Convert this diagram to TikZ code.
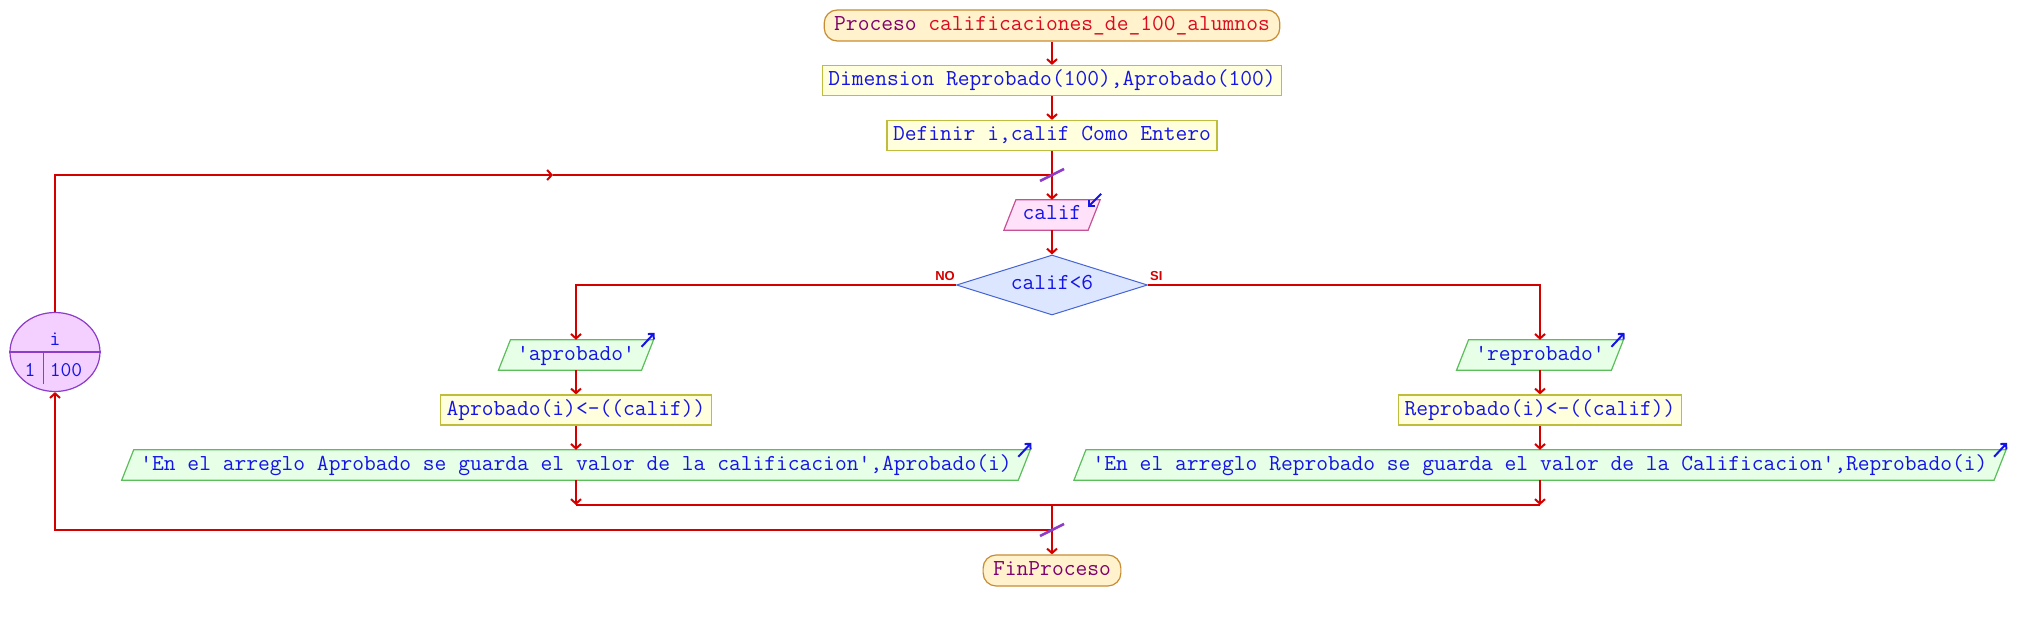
\documentclass[tikz,border=0pt]{standalone}
\usepackage{fontspec}
\newfontfamily\lblfont{Liberation Sans}
\usetikzlibrary{arrows.meta,shapes.geometric,calc,backgrounds}
\definecolor{termfill}{RGB}{255,242,204}
\definecolor{termdraw}{RGB}{200,140,50}
\definecolor{procfill}{RGB}{255,255,221}
\definecolor{procdraw}{RGB}{190,190,60}
\definecolor{iofill}{RGB}{230,255,230}
\definecolor{iodraw}{RGB}{90,190,90}
\definecolor{infill}{RGB}{255,225,250}
\definecolor{indraw}{RGB}{200,80,150}
\definecolor{decfill}{RGB}{221,230,255}
\definecolor{decdraw}{RGB}{70,100,210}
\definecolor{loopfill}{RGB}{243,208,255}
\definecolor{loopdraw}{RGB}{140,60,200}
\definecolor{flowred}{RGB}{212,0,0}
\definecolor{txtblue}{RGB}{20,20,230}
\definecolor{procpurple}{RGB}{128,0,110}
\definecolor{procred}{RGB}{220,10,30}
\newcommand\ioshape[3]{%
  \begin{scope}[on background layer]
    \filldraw[fill=#2,draw=#3,line width=1.2pt]
      ($(#1.south west)+(-6,0)$) -- ($(#1.south east)+(-6,0)$) --
      ($(#1.north east)+(6,0)$) -- ($(#1.north west)+(6,0)$) -- cycle;
  \end{scope}}
\tikzset{
  base/.style={font=\ttfamily\fontsize{22.86}{26}\selectfont, text=txtblue,
    text height=14pt, text depth=4pt, minimum height=30pt, inner ysep=0pt},
  term/.style={base, draw=termdraw, fill=termfill, line width=1.2pt,
    rounded corners=13pt, inner xsep=10pt, minimum height=31pt, text=procpurple},
  proc/.style={base, draw=procdraw, fill=procfill, line width=1.2pt, inner xsep=6pt},
  io/.style={base, inner xsep=12.5pt},
  dec/.style={base, diamond, draw=decdraw, fill=decfill, line width=1pt,
    inner sep=0pt, aspect=3.18, minimum width=191pt, minimum height=60pt},
  loopshape/.style={ellipse, draw=loopdraw, fill=loopfill, line width=1.2pt,
    inner sep=0pt, minimum width=90pt, minimum height=79pt},
  looptxt/.style={font=\ttfamily\fontsize{21}{24}\selectfont, text=txtblue, inner sep=0pt, anchor=base},
  loopline/.style={draw=loopdraw, line width=1.2pt},
  line/.style={draw=flowred, line width=2pt},
  flow/.style={line, -{Straight Barb[length=4.5pt,width=10pt]}},
  ioarrow/.style={draw=txtblue, line width=2pt, -{Straight Barb[length=4pt,width=8pt]}},
  slashmark/.style={draw=loopdraw, line width=2.6pt},
  lbl/.style={font=\lblfont\bfseries\fontsize{13}{15}\selectfont, text=flowred, inner sep=0pt}
}
\begin{document}
\begin{tikzpicture}[x=1pt,y=-1pt]
\begin{scope}[on background layer]
  \fill[white] (0,0) rectangle (2018,620);
\end{scope}
\useasboundingbox (0,0) rectangle (2018,620);

% main column
\node[term] (title) at (1052,25.5) {Proceso \textcolor{procred}{calificaciones\_de\_100\_alumnos}};
\node[proc] (dim) at (1052,80.5) {Dimension Reprobado(100),Aprobado(100)};
\node[proc] (def) at (1052,135.5) {Definir i,calif Como Entero};
\node[io] (calif) at (1052,215) {calif};
\ioshape{calif}{infill}{indraw}
\node[dec] (dec) at (1052,285) {calif<6};

% left column
\node[io] (apro) at (576,355) {\textquotesingle aprobado\textquotesingle};
\ioshape{apro}{iofill}{iodraw}
\node[proc] (aproasig) at (576,410) {Aprobado(i)<-((calif))};
\node[io] (aproout) at (576,465) {\textquotesingle En el arreglo Aprobado se guarda el valor de la calificacion\textquotesingle,Aprobado(i)};
\ioshape{aproout}{iofill}{iodraw}

% right column
\node[io] (repro) at (1540,355) {\textquotesingle reprobado\textquotesingle};
\ioshape{repro}{iofill}{iodraw}
\node[proc] (reproasig) at (1540,410) {Reprobado(i)<-((calif))};
\node[io] (reproout) at (1540,465) {\textquotesingle En el arreglo Reprobado se guarda el valor de la Calificacion\textquotesingle,Reprobado(i)};
\ioshape{reproout}{iofill}{iodraw}

\node[term] (fin) at (1052,570.5) {FinProceso};

% loop node
\node[loopshape] (loopnode) at (55,352) {};
\draw[loopline] (loopnode.west) -- (loopnode.east);
\draw[loopline] (43.3,352) -- (43.3,384);
\node[looptxt] (li) at (55,345) {i};
\node[looptxt] (lfrom) at (30,376.5) {1};
\node[looptxt] (lto) at (66,376.5) {100};

% labels
\node[lbl, anchor=south east] (no) at (955,281) {NO};
\node[lbl, anchor=south west] (si) at (1150,281) {SI};

% coordinates
\coordinate (lt) at (1052,175);
\coordinate (la) at (553,175);
\coordinate (mL) at (576,505);
\coordinate (mR) at (1540,505);
\coordinate (mC) at (1052,505);
\coordinate (lb) at (1052,530);

% connectors
\draw[flow] (title) -- (dim);
\draw[flow] (dim) -- (def);
\draw[flow] (def) -- (calif);
\draw[flow] (calif) -- (dec);
\draw[flow] (dec.west) -| (apro);
\draw[flow] (dec.east) -| (repro);
\draw[flow] (apro) -- (aproasig);
\draw[flow] (aproasig) -- (aproout);
\draw[flow] (repro) -- (reproasig);
\draw[flow] (reproasig) -- (reproout);
\draw[flow] (aproout) -- (mL);
\draw[flow] (reproout) -- (mR);
\draw[line] (mL) -- (mR);
\draw[flow] (mC) -- (fin);
\draw[flow] (lb) -| (loopnode.south);
\draw[flow] (loopnode.north) |- (la);
\draw[line] (la) -- (lt);

% slashes
\draw[slashmark] ($(lt)+(-12,6)$) -- ($(lt)+(12,-6)$);
\draw[slashmark] ($(lb)+(-12,6)$) -- ($(lb)+(12,-6)$);

% io arrows
\draw[ioarrow] ($(calif.north east)+(7,-6)$) -- ($(calif.north east)+(-6,7)$);
\draw[ioarrow] ($(apro.north east)+(-6,7)$) -- ($(apro.north east)+(7,-7)$);
\draw[ioarrow] ($(aproout.north east)+(-6,7)$) -- ($(aproout.north east)+(7,-7)$);
\draw[ioarrow] ($(repro.north east)+(-6,7)$) -- ($(repro.north east)+(7,-7)$);
\draw[ioarrow] ($(reproout.north east)+(-6,7)$) -- ($(reproout.north east)+(7,-7)$);
\end{tikzpicture}
\end{document}
